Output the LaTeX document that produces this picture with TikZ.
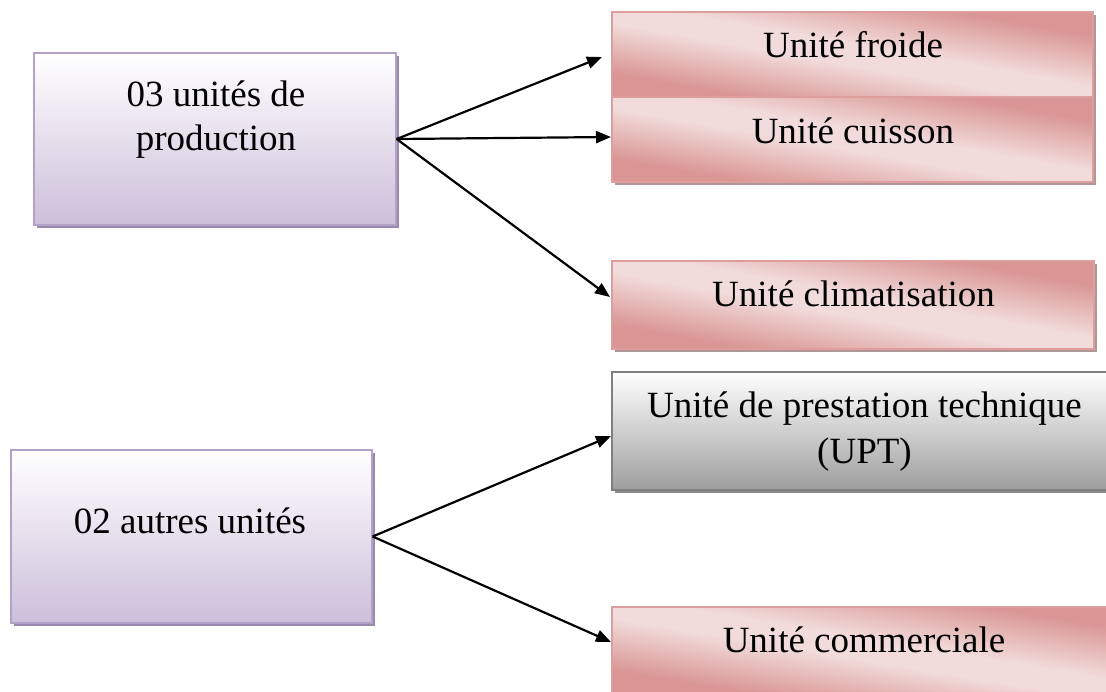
\documentclass[tikz,border=0pt]{standalone}
\usepackage{fontspec}
\setmainfont{Liberation Serif}
\usetikzlibrary{arrows.meta,shadows}
\definecolor{plav}{HTML}{CCBFDA}
\definecolor{pbord}{HTML}{B3A2C7}
\definecolor{pshad}{HTML}{9A8AAE}
\definecolor{rbord}{HTML}{DD9E9D}
\definecolor{rshad}{HTML}{B09696}
\definecolor{gdk}{HTML}{9E9E9E}
\definecolor{gbord}{HTML}{7F7F7F}
\definecolor{gshad}{HTML}{8C8C8C}
% diagonal band shading: dark at bottom-left and top-right corners, light along the other diagonal
\pgfdeclarefunctionalshading{redband}{\pgfpointorigin}{\pgfpoint{100bp}{100bp}}{}{
  add 100 div 1 sub abs 2 mul
  0.12 sub 0.6 div
  dup 0 lt {pop 0} if
  dup 1 gt {pop 1} if
  dup -0.098 mul 0.949 add exch
  dup -0.275 mul 0.863 add exch
  -0.279 mul 0.859 add
}
\begin{document}
\begin{tikzpicture}[x=1pt,y=-1pt,
  box/.style={rectangle, inner sep=0pt, line width=1.3pt},
  purplebox/.style={box, draw=pbord, top color=white, bottom color=plav,
    general shadow={fill=pshad, shadow xshift=3pt, shadow yshift=-3pt}},
  redbox/.style={box, draw=rbord, shade, shading=redband,
    general shadow={fill=rshad, shadow xshift=3pt, shadow yshift=-3pt}},
  graybox/.style={box, draw=gbord, top color=white, bottom color=gdk,
    general shadow={fill=gshad, shadow xshift=3pt, shadow yshift=-3pt}},
  txt/.style={font=\fontsize{37}{44}\selectfont, inner sep=0pt, anchor=base},
  arr/.style={line width=2.2pt, -{Triangle[length=15pt,width=12pt]}}
]
\useasboundingbox (0,0) rectangle (1106,691);
\clip (0,0) rectangle (1106,691);

% boxes
\node[purplebox, minimum width=362pt, minimum height=172pt] (b1) at (215,139) {};
\node[redbox, minimum width=481pt, minimum height=85pt] (froide) at (852.5,54.5) {};
\node[redbox, minimum width=481pt, minimum height=85pt] (cuisson) at (852.5,139.5) {};
\node[redbox, minimum width=482pt, minimum height=88pt] (clim) at (853,305) {};
\node[graybox, minimum width=530pt, minimum height=118pt] (upt) at (877,431) {};
\node[purplebox, minimum width=361pt, minimum height=173pt] (b2) at (191.5,536.5) {};
\node[redbox, minimum width=530pt, minimum height=88pt] (comm) at (877,651) {};

% texts
\node[txt] (t1a) at (216,106) {03 unités de};
\node[txt] (t1b) at (216,150) {production};
\node[txt] (t2) at (853,57) {Unité froide};
\node[txt] (t3) at (853,143) {Unité cuisson};
\node[txt] (t4) at (853.5,306) {Unité climatisation};
\node[txt] (t5a) at (864.5,417) {Unité de prestation technique};
\node[txt] (t5b) at (864.5,463) {(UPT)};
\node[txt] (t6) at (190,533) {02 autres unités};
\node[txt] (t7) at (864,652) {Unité commerciale};

% arrow ends
\coordinate (e1) at (602,57);
\coordinate (e2) at (611,137);
\coordinate (e3) at (610,297);
\coordinate (e4) at (611,436);
\coordinate (e5) at (611,642);

\draw[arr] (b1.east) -- (e1);
\draw[arr] (b1.east) -- (e2);
\draw[arr] (b1.east) -- (e3);
\draw[arr] (b2.east) -- (e4);
\draw[arr] (b2.east) -- (e5);
\end{tikzpicture}
\end{document}
